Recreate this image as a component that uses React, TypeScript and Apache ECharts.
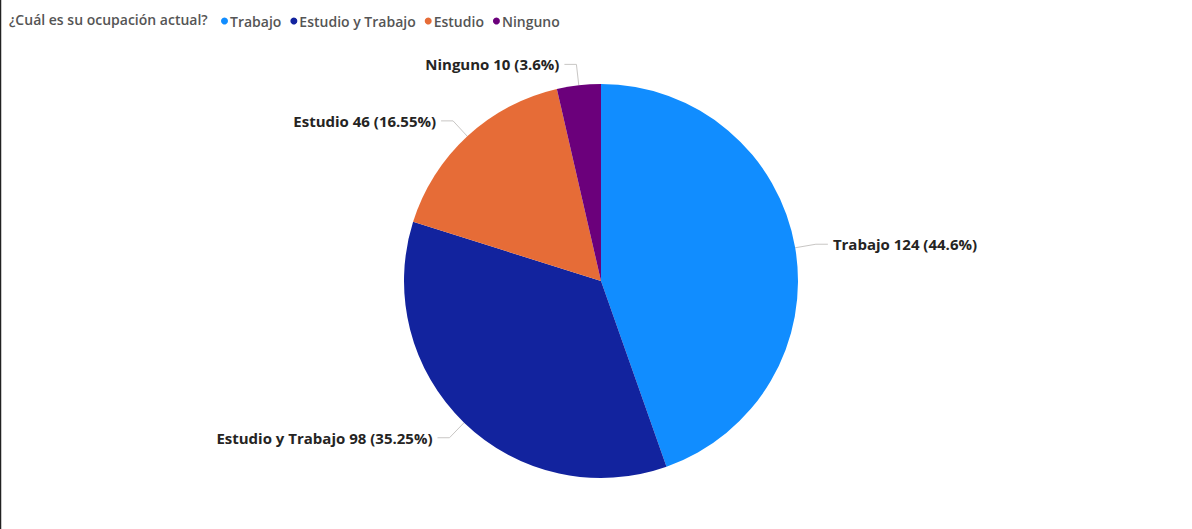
import React, { useEffect, useRef } from "react";
import * as echarts from "echarts";

const categories = ["Trabajo", "Estudio y Trabajo", "Estudio", "Ninguno"];
const values = [124, 98, 46, 10];
const colors = ["#118DFF", "#12239E", "#E66C37", "#6B007B"];
const legendTitle = "¿Cuál es su ocupación actual?";

export default function App() {
  const ref = useRef<HTMLDivElement>(null);
  useEffect(() => {
    if (!ref.current) return;
    const chart = echarts.init(ref.current, undefined, { renderer: "svg" });
    const total = values.reduce((a, b) => a + b, 0);
    chart.setOption({
      animation: false,
      backgroundColor: "#ffffff",
      title: {
        text: legendTitle,
        left: 4,
        top: 7,
        textStyle: { fontFamily: "Open Sans", fontSize: 14, fontWeight: 600, color: "#555555" },
      },
      legend: {
        left: 216,
        top: 9,
        icon: "circle",
        itemWidth: 7,
        itemHeight: 7,
        itemGap: 9,
        textStyle: { fontFamily: "Open Sans", fontSize: 14, fontWeight: 600, color: "#555555", padding: [0, 0, 0, -3] },
        data: categories,
      },
      graphic: [
        { type: "line", shape: { x1: 0.5, y1: 0, x2: 0.5, y2: 529 }, style: { stroke: "#222", lineWidth: 1.5 } },
      ],
      series: [
        {
          type: "pie",
          center: [601, 281],
          radius: [0, 197],
          startAngle: 90,
          clockwise: true,
          data: categories.map((c, i) => ({ name: c, value: values[i], itemStyle: { color: colors[i] } })),
          label: {
            show: true,
            position: "outside",
            fontFamily: "Open Sans",
            fontSize: 15,
            fontWeight: "bold",
            color: "#252423",
            formatter: (p: any) => {
              const pct = Math.round((p.value / total) * 10000) / 100;
              return `${p.name} ${p.value} (${pct}%)`;
            },
          },
          labelLine: { show: true, length: 21, length2: 12, lineStyle: { color: "#C8C6C4", width: 1 } },
          itemStyle: { borderWidth: 0 },
          emphasis: { disabled: true },
        },
      ],
    });
    return () => chart.dispose();
  }, []);
  return <div ref={ref} style={{ position: "fixed", left: 0, top: 0, width: 1192, height: 529 }} />;
}
